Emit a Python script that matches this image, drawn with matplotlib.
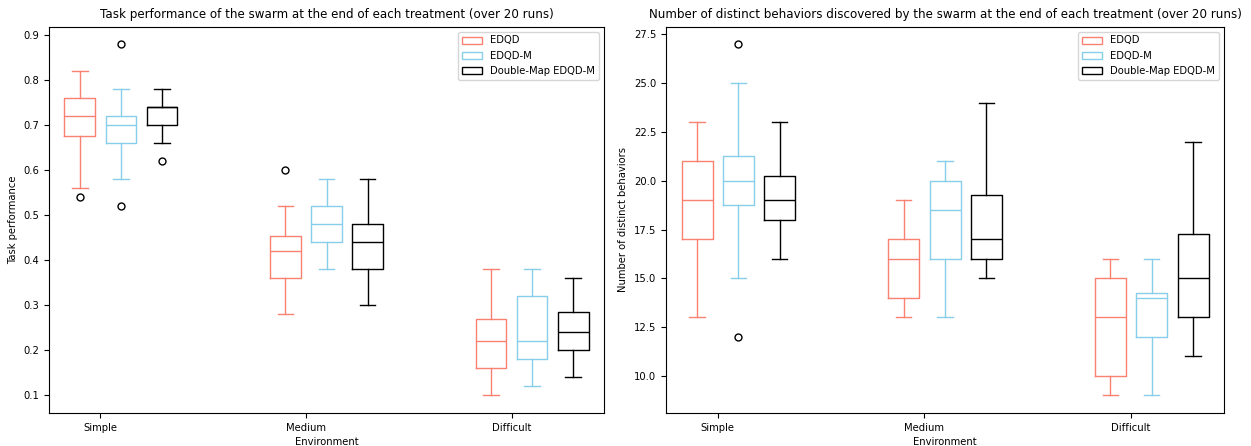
import matplotlib
matplotlib.use("Agg")
import matplotlib.pyplot as plt
from matplotlib.patches import Patch

environments = ["Simple", "Medium", "Difficult"]
treatments = ["EDQD", "EDQD-M", "Double-Map EDQD-M"]
colors = ["salmon", "skyblue", "black"]

# Task performance: per treatment, per environment (whislo, q1, med, q3, whishi)
perf_whislo = {"EDQD": [0.56, 0.28, 0.10], "EDQD-M": [0.58, 0.38, 0.12], "Double-Map EDQD-M": [0.66, 0.30, 0.14]}
perf_q1 = {"EDQD": [0.675, 0.36, 0.16], "EDQD-M": [0.66, 0.44, 0.18], "Double-Map EDQD-M": [0.70, 0.38, 0.20]}
perf_med = {"EDQD": [0.72, 0.42, 0.22], "EDQD-M": [0.70, 0.48, 0.22], "Double-Map EDQD-M": [0.74, 0.44, 0.24]}
perf_q3 = {"EDQD": [0.76, 0.455, 0.27], "EDQD-M": [0.72, 0.52, 0.32], "Double-Map EDQD-M": [0.74, 0.48, 0.285]}
perf_whishi = {"EDQD": [0.82, 0.52, 0.38], "EDQD-M": [0.78, 0.58, 0.38], "Double-Map EDQD-M": [0.78, 0.58, 0.36]}
perf_fliers = {"EDQD": [[0.54], [0.60], []], "EDQD-M": [[0.88, 0.52], [], []], "Double-Map EDQD-M": [[0.62], [], []]}

# Number of distinct behaviors
beh_whislo = {"EDQD": [13, 13, 9], "EDQD-M": [15, 13, 9], "Double-Map EDQD-M": [16, 15, 11]}
beh_q1 = {"EDQD": [17, 14, 10], "EDQD-M": [18.75, 16, 12], "Double-Map EDQD-M": [18, 16, 13]}
beh_med = {"EDQD": [19, 16, 13], "EDQD-M": [20, 18.5, 14], "Double-Map EDQD-M": [19, 17, 15]}
beh_q3 = {"EDQD": [21, 17, 15], "EDQD-M": [21.25, 20, 14.25], "Double-Map EDQD-M": [20.25, 19.25, 17.25]}
beh_whishi = {"EDQD": [23, 19, 16], "EDQD-M": [25, 21, 16], "Double-Map EDQD-M": [23, 24, 22]}
beh_fliers = {"EDQD": [[], [], []], "EDQD-M": [[27, 12], [], []], "Double-Map EDQD-M": [[], [], []]}

offsets = [-0.1, 0.1, 0.3]
box_width = 0.15

fig = plt.figure(figsize=(12.51, 4.46), dpi=100)
ax1 = fig.add_axes([49 / 1251, 1 - 413 / 446, (604 - 49) / 1251, (413 - 26.5) / 446])
ax2 = fig.add_axes([666 / 1251, 1 - 413 / 446, (1224 - 666) / 1251, (413 - 26.5) / 446])

FS_TICK = 7.2
FS_LAB = 7.2
FS_TITLE = 8.55


def draw(ax, wl, q1, med, q3, wh, fl):
    for t, off, col in zip(treatments, offsets, colors):
        stats = []
        for i in range(len(environments)):
            stats.append(dict(whislo=wl[t][i], q1=q1[t][i], med=med[t][i],
                              q3=q3[t][i], whishi=wh[t][i], fliers=fl[t][i]))
        pos = [i + off for i in range(len(environments))]
        ax.bxp(stats, positions=pos, widths=box_width, manage_ticks=False,
               boxprops=dict(color=col, linewidth=1.0),
               medianprops=dict(color=col, linewidth=1.0),
               whiskerprops=dict(color=col, linewidth=1.0),
               capprops=dict(color=col, linewidth=1.0),
               flierprops=dict(marker='o', markerfacecolor='none',
                               markeredgecolor='black', markersize=5))
    ax.set_xticks(range(len(environments)))
    ax.set_xticklabels(environments, fontsize=FS_TICK)
    ax.tick_params(axis='y', labelsize=FS_TICK)
    ax.set_xlim(-0.25, 2.45)
    ax.set_xlabel("Environment", fontsize=FS_LAB, labelpad=3)
    handles = [Patch(facecolor='none', edgecolor=c, label=t) for t, c in zip(treatments, colors)]
    ax.legend(handles=handles, loc='upper right', fontsize=FS_TICK)


draw(ax1, perf_whislo, perf_q1, perf_med, perf_q3, perf_whishi, perf_fliers)
draw(ax2, beh_whislo, beh_q1, beh_med, beh_q3, beh_whishi, beh_fliers)

ax1.set_ylabel("Task performance", fontsize=FS_LAB)
ax1.set_title("Task performance of the swarm at the end of each treatment (over 20 runs)", fontsize=FS_TITLE)
ax2.set_ylabel("Number of distinct behaviors", fontsize=FS_LAB)
ax2.set_title("Number of distinct behaviors discovered by the swarm at the end of each treatment (over 20 runs)", fontsize=FS_TITLE)

fig.savefig("out.png", dpi=100)
